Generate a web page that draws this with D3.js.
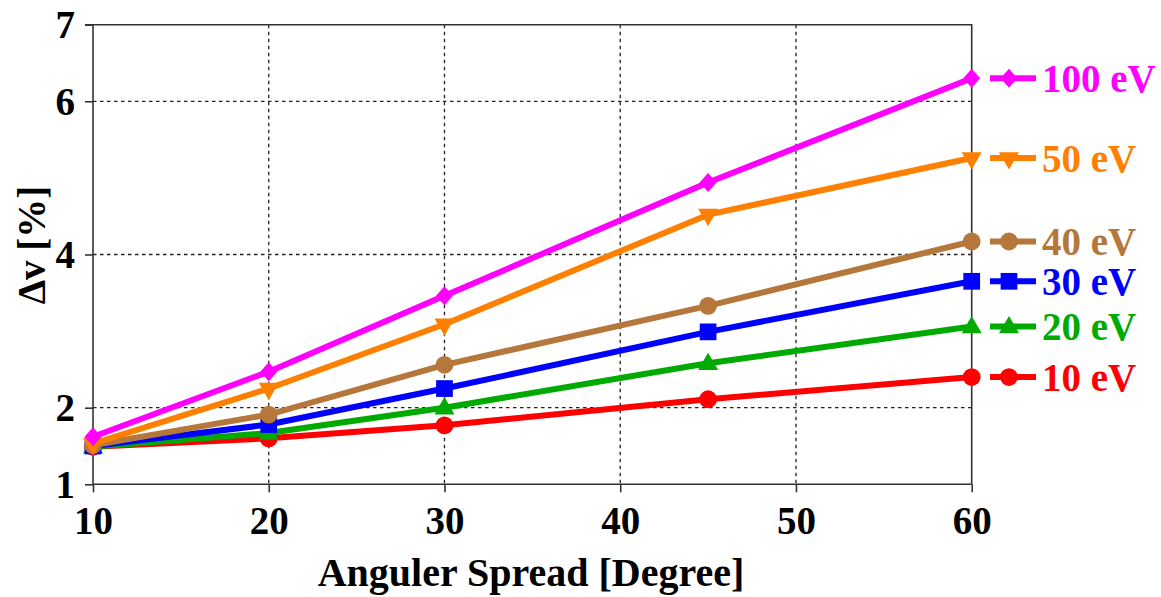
<!DOCTYPE html>
<html>
<head>
<meta charset="utf-8">
<script src="https://cdn.jsdelivr.net/npm/d3@7"></script>
<style>
  html, body { margin: 0; padding: 0; background: #fff; }
  svg { display: block; }
  text { font-family: "Liberation Serif", "Times New Roman", serif; font-weight: bold; }
</style>
</head>
<body>
<svg id="chart" width="1161" height="597"></svg>
<script>
// Angular spread (degrees) sampled for every energy
const spread = [10, 20, 30, 45, 60];

// Velocity spread Δv [%] for each electron energy
const ev10  = [1.49, 1.60, 1.77, 2.11, 2.40];
const ev20  = [1.49, 1.67, 2.00, 2.58, 3.06];
const ev30  = [1.50, 1.78, 2.25, 2.99, 3.65];
const ev40  = [1.51, 1.91, 2.56, 3.33, 4.17];
const ev50  = [1.53, 2.25, 3.09, 4.52, 5.26];
const ev100 = [1.62, 2.47, 3.46, 4.94, 6.30];

const seriesNames = ["10 eV", "20 eV", "30 eV", "40 eV", "50 eV", "100 eV"];
const xTicks = [10, 20, 30, 40, 50, 60];
const yTicks = [1, 2, 4, 6, 7];
const xGrid = [20, 30, 40, 50];
const yGrid = [2, 4, 6];

const series = [
  { name: seriesNames[0], values: ev10,  color: "#ff0000", marker: "circle" },
  { name: seriesNames[1], values: ev20,  color: "#00aa00", marker: "triangleUp" },
  { name: seriesNames[2], values: ev30,  color: "#0000ff", marker: "square" },
  { name: seriesNames[3], values: ev40,  color: "#b5773b", marker: "circle" },
  { name: seriesNames[4], values: ev50,  color: "#ff8000", marker: "triangleDown" },
  { name: seriesNames[5], values: ev100, color: "#ff00ff", marker: "diamond" }
];

const svg = d3.select("#chart");
const plotL = 93, plotR = 971.7, plotT = 24.7, plotB = 484.3;

const x = d3.scaleLinear().domain([10, 60]).range([plotL, plotR]);
const y = d3.scaleLinear().domain([1, 7]).range([plotB, plotT]);

// dotted grid
const grid = svg.append("g")
  .attr("stroke", "#222").attr("stroke-width", 1.3).attr("stroke-dasharray", "3.5,3.5");
grid.selectAll("line.v").data(xGrid).join("line").attr("class", "v")
  .attr("x1", d => x(d)).attr("x2", d => x(d)).attr("y1", plotT).attr("y2", plotB);
grid.selectAll("line.h").data(yGrid).join("line").attr("class", "h")
  .attr("x1", plotL).attr("x2", plotR).attr("y1", d => y(d)).attr("y2", d => y(d));

// frame (top and right edges)
svg.append("path")
  .attr("d", `M${plotL - 8},${plotT}H${plotR}V${plotB}`)
  .attr("fill", "none").attr("stroke", "#333").attr("stroke-width", 1.6);

// axes
const xAxis = d3.axisBottom(x).tickValues(xTicks).tickSize(8).tickPadding(14).tickFormat(d3.format("d"));
const yAxis = d3.axisLeft(y).tickValues(yTicks).tickSize(8).tickPadding(10).tickFormat(d3.format("d"));

const gx = svg.append("g").attr("transform", `translate(0,${plotB})`).call(xAxis);
const gy = svg.append("g").attr("transform", `translate(${plotL},0)`).call(yAxis);
[gx, gy].forEach(g => {
  g.select(".domain").attr("stroke", "#333").attr("stroke-width", 1.6);
  g.selectAll(".tick line").attr("stroke", "#333").attr("stroke-width", 1.6);
  g.selectAll(".tick text").attr("fill", "#000").style("font-size", "39px")
    .style("font-family", "'Liberation Serif', 'Times New Roman', serif").style("font-weight", "bold");
});
gx.selectAll(".tick text").attr("dy", "0.71em");
gy.selectAll(".tick text").attr("dy", "0.34em");
gx.select(".domain").attr("d", `M${plotL},0H${plotR}`);
gy.select(".domain").attr("d", `M0,${plotB}V${plotT}`);

// axis titles
svg.append("text")
  .attr("x", 531).attr("y", 586)
  .attr("text-anchor", "middle").style("font-size", "40px").attr("fill", "#000")
  .text("Anguler Spread [Degree]");

svg.append("text")
  .attr("transform", `translate(45,245) rotate(-90)`)
  .attr("text-anchor", "middle").style("font-size", "39px").attr("fill", "#000")
  .text("Δv [%]");

// marker shapes
function markerPath(kind) {
  switch (kind) {
    case "circle": return d3.symbol(d3.symbolCircle, 250)();
    case "square": return d3.symbol(d3.symbolSquare, 280)();
    case "triangleUp": return d3.symbol(d3.symbolTriangle, 175)();
    case "triangleDown": return d3.symbol(d3.symbolTriangle, 175)();
    case "diamond": return "M0,-9.5L8.5,0L0,9.5L-8.5,0Z";
  }
}
function markerTransform(kind, px, py) {
  if (kind === "triangleDown") return `translate(${px},${py}) rotate(180)`;
  if (kind === "triangleUp") return `translate(${px},${py + 1})`;
  return `translate(${px},${py})`;
}

const line = d3.line().x((d, i) => x(spread[i])).y(d => y(d));

series.forEach(s => {
  const g = svg.append("g");
  g.append("path").attr("d", line(s.values))
    .attr("fill", "none").attr("stroke", s.color).attr("stroke-width", 6)
    .attr("stroke-linejoin", "round");
  g.selectAll("path.m").data(s.values).join("path").attr("class", "m")
    .attr("d", markerPath(s.marker))
    .attr("transform", (d, i) => markerTransform(s.marker, x(spread[i]), y(d)))
    .attr("fill", s.color);

  // legend entry placed level with the series' last value
  const ly = y(s.values[s.values.length - 1]);
  const lg = svg.append("g");
  lg.append("line").attr("x1", 990).attr("x2", 1036).attr("y1", ly).attr("y2", ly)
    .attr("stroke", s.color).attr("stroke-width", 6);
  lg.append("path").attr("d", markerPath(s.marker))
    .attr("transform", markerTransform(s.marker, 1009, ly)).attr("fill", s.color);
  lg.append("text").attr("x", 1042).attr("y", ly).attr("dy", "0.35em")
    .style("font-size", "39px").attr("fill", s.color).text(s.name);
});
</script>
</body>
</html>
